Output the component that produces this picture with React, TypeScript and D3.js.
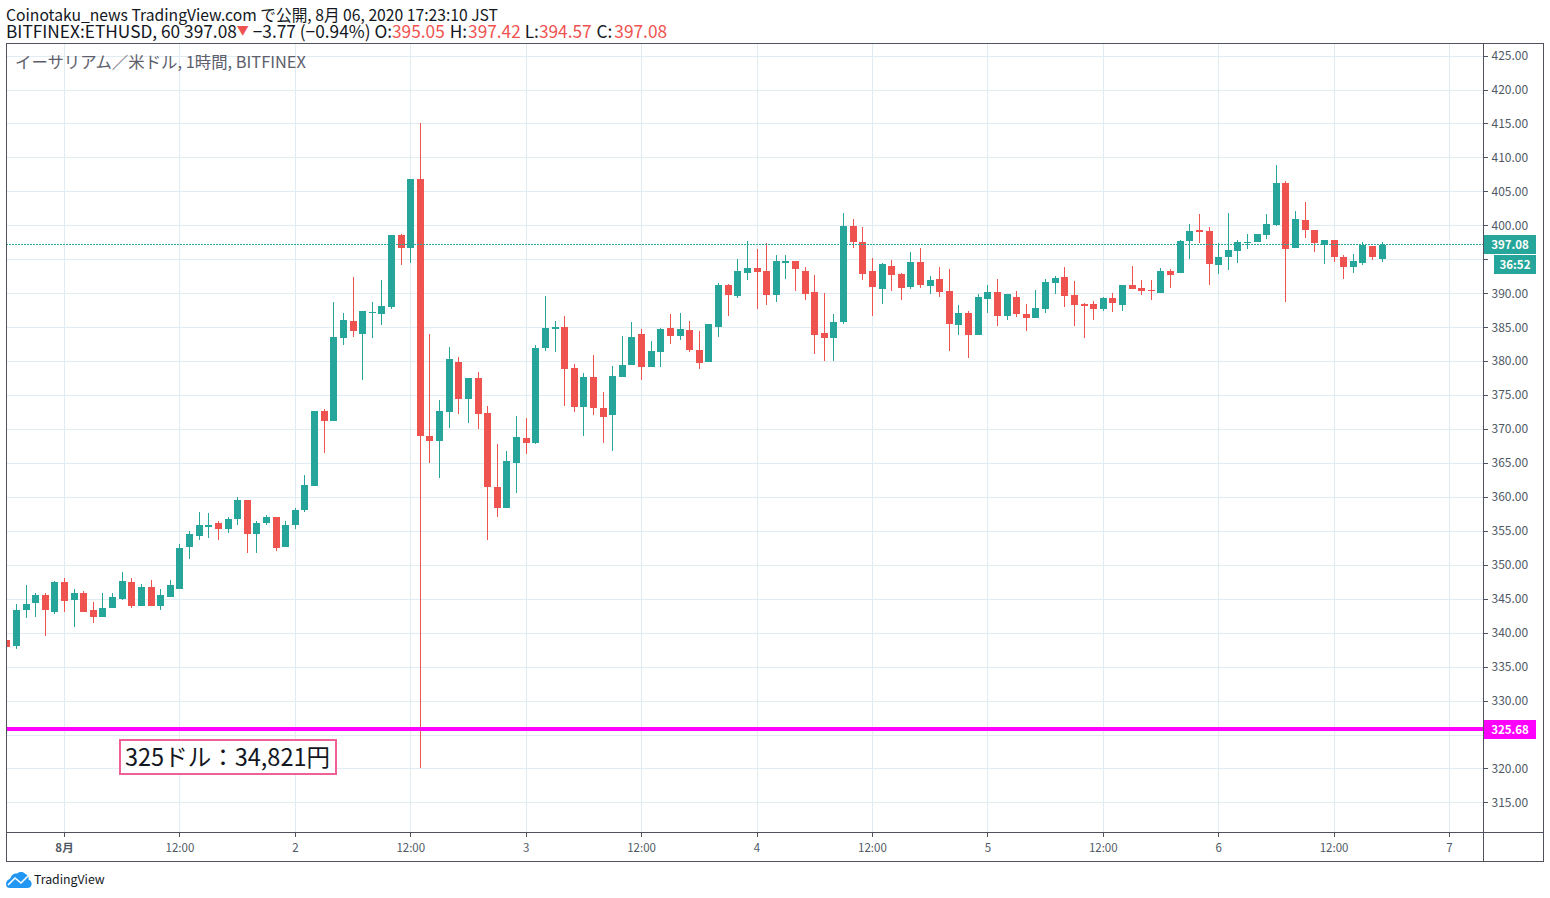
import React, { useRef, useEffect } from "react";
import * as d3 from "d3";

// values, one entry per hourly candle
const opens = [
  338.9, 338.0, 343.3, 344.3, 345.5, 343.1, 347.4, 344.75, 345.8, 343.3, 342.25, 343.6,
  344.9, 347.4, 343.9, 346.8, 344.0, 345.3, 346.5, 352.55, 354.3, 355.6, 356.1, 355.2,
  356.7, 359.5, 354.6, 356.1, 357.0, 352.55, 355.8, 358.0, 361.6, 372.65, 371.2, 383.4,
  385.9, 384.0, 387.1, 387.0, 388.0, 398.6, 396.7, 406.8, 369.0, 368.2, 372.5, 379.9,
  374.4, 377.5, 372.4, 361.45, 358.35, 365.0, 368.7, 367.95, 381.95, 384.75, 385.05, 379.0,
  373.25, 377.65, 373.1, 372.05, 377.65, 379.4, 383.95, 379.2, 381.3, 384.85, 383.65, 384.55,
  381.6, 379.8, 385.0, 391.2, 389.55, 393.0, 393.7, 393.25, 389.7, 394.45, 394.75, 393.25,
  390.15, 384.1, 383.35, 385.7, 399.9, 397.55, 393.25, 390.6, 394.0, 392.8, 390.9, 394.6,
  391.0, 392.05, 390.3, 385.25, 387.05, 383.8, 389.1, 390.15, 386.6, 389.4, 386.9, 386.3,
  387.65, 391.5, 392.35, 389.7, 388.4, 388.4, 387.65, 389.25, 388.3, 391.2, 390.8, 390.5,
  390.05, 393.3, 393.0, 397.7, 399.3, 399.15, 394.15, 395.35, 396.25, 397.4, 397.55, 398.6,
  400.05, 406.2, 396.65, 400.8, 399.3, 397.1, 397.85, 395.35, 393.85, 394.45, 396.95, 395.05,
];
const closes = [
  337.9, 343.4, 344.2, 345.5, 343.3, 347.4, 344.6, 345.9, 343.1, 342.25, 343.7, 345.2,
  347.55, 343.9, 346.8, 343.9, 345.5, 347.0, 352.4, 354.6, 355.8, 355.9, 355.2, 356.8,
  359.5, 354.6, 356.2, 357.0, 352.4, 355.9, 358.0, 361.7, 372.65, 371.2, 383.6, 386.1,
  384.45, 387.4, 387.25, 388.1, 398.6, 396.7, 406.8, 368.9, 368.2, 372.65, 380.3, 374.4,
  377.5, 372.2, 361.45, 358.35, 365.3, 368.8, 367.95, 381.95, 384.9, 385.05, 378.85, 373.25,
  377.65, 373.1, 371.75, 377.8, 379.45, 383.5, 379.2, 381.45, 384.7, 383.65, 384.7, 381.6,
  379.65, 385.4, 391.2, 389.7, 393.25, 393.7, 393.1, 389.7, 394.75, 394.75, 393.55, 389.85,
  383.8, 383.35, 385.7, 399.9, 397.55, 392.8, 390.9, 394.3, 392.65, 390.75, 394.6, 391.2,
  391.9, 390.15, 385.4, 387.05, 383.8, 389.4, 390.15, 386.6, 389.85, 386.9, 386.3, 387.8,
  391.6, 392.2, 389.55, 388.25, 388.1, 387.65, 389.25, 388.5, 391.2, 390.65, 390.35, 390.35,
  393.3, 392.7, 397.7, 399.15, 399.0, 394.3, 395.35, 396.35, 397.55, 397.55, 398.75, 400.2,
  406.2, 396.5, 400.95, 399.3, 397.4, 397.85, 395.35, 393.85, 394.75, 397.1, 395.35, 397.08,
];
const highs = [
  338.9, 344.2, 347.0, 345.8, 345.8, 347.6, 348.0, 346.4, 346.1, 344.5, 345.8, 345.8,
  348.9, 348.0, 347.1, 347.7, 346.4, 347.7, 353.0, 355.0, 357.8, 357.7, 356.5, 357.0,
  360.0, 359.6, 356.4, 357.4, 357.0, 356.5, 358.3, 363.2, 372.65, 372.95, 388.7, 387.1,
  392.4, 387.4, 388.7, 392.0, 398.6, 398.7, 406.8, 415.0, 384.0, 374.3, 382.1, 380.6,
  377.5, 378.4, 373.4, 367.8, 366.8, 371.9, 371.6, 382.4, 389.6, 385.9, 386.65, 379.6,
  378.25, 380.9, 375.45, 379.3, 383.7, 385.7, 384.7, 382.9, 384.85, 386.9, 387.05, 385.85,
  384.4, 385.4, 391.5, 391.35, 395.0, 397.7, 396.5, 397.4, 395.6, 395.6, 394.75, 393.85,
  392.65, 390.0, 386.9, 401.8, 400.95, 399.75, 395.15, 394.45, 394.85, 392.95, 396.05, 396.65,
  392.5, 393.85, 393.55, 388.2, 387.35, 389.85, 391.2, 392.05, 389.85, 390.3, 388.4, 390.45,
  392.05, 392.5, 393.85, 391.75, 388.5, 388.8, 389.4, 390.0, 391.2, 394.0, 391.95, 391.95,
  393.75, 393.6, 397.85, 400.2, 401.65, 399.75, 397.4, 401.8, 397.85, 398.75, 398.75, 401.65,
  408.85, 406.5, 402.1, 403.45, 399.3, 397.85, 397.85, 395.65, 395.8, 397.55, 396.95, 397.55,
];
const lows = [
  337.9, 337.6, 342.1, 342.25, 339.5, 342.7, 343.0, 340.8, 343.1, 341.4, 342.25, 343.6,
  344.75, 343.7, 343.9, 343.9, 343.3, 345.3, 346.4, 350.9, 353.6, 353.9, 353.7, 354.75,
  355.8, 351.8, 351.7, 355.8, 352.1, 352.55, 355.3, 357.8, 361.6, 366.5, 371.2, 382.4,
  383.6, 377.2, 383.4, 385.3, 387.7, 394.2, 394.5, 320.0, 365.0, 362.8, 370.15, 372.2,
  370.9, 370.0, 353.6, 357.0, 358.35, 360.6, 366.3, 367.8, 381.5, 381.35, 373.4, 372.5,
  369.0, 372.05, 367.95, 366.75, 377.65, 379.4, 377.15, 379.2, 379.2, 382.45, 383.05, 381.3,
  378.9, 379.8, 383.5, 386.6, 389.25, 391.9, 387.65, 388.2, 388.65, 392.05, 390.3, 388.95,
  381.0, 379.95, 379.95, 385.4, 396.65, 391.9, 386.6, 388.4, 390.3, 388.95, 390.6, 390.75,
  389.85, 389.4, 381.45, 383.8, 380.4, 383.8, 387.05, 385.1, 386.0, 386.45, 384.4, 386.3,
  387.05, 389.85, 387.95, 385.1, 383.35, 386.0, 387.35, 387.2, 387.4, 390.65, 389.75, 389.0,
  390.05, 390.8, 393.0, 395.05, 397.4, 391.25, 392.85, 393.45, 394.45, 396.5, 397.55, 398.0,
  399.9, 388.75, 396.65, 398.15, 396.1, 394.3, 394.6, 392.1, 393.0, 394.15, 394.9, 394.57,
];

const priceTicks = d3.range(315, 426, 5);
const hiddenPriceLabels = [325, 395]; // sit behind the price tags
const timeTicks = [0, 12, 24, 36, 48, 60, 72, 84, 96, 108, 120, 132, 144]; // hours from 1 Aug
const timeLabels = ["8月", "12:00", "2", "12:00", "3", "12:00", "4", "12:00", "5", "12:00", "6", "12:00", "7"];
const firstCandleHour = -6;
const lastPrice = 397.08;

const GREEN = "#26a69a";
const RED = "#ef5350";
const MAGENTA = "#ff00ff";
const GRID = "#e1ecf2";
const FRAME = "#50535e";
const TEXT = "#4f5966";
const FONT = "'Noto Sans CJK JP', 'Noto Sans', sans-serif";

export default function App() {
  const svgRef = useRef<SVGSVGElement | null>(null);

  useEffect(() => {
    const svg = d3.select(svgRef.current);
    svg.selectAll("*").remove();

    // pane box
    const pane = { left: 6, top: 43, right: 1483, bottom: 832 };
    const outer = { right: 1543, bottom: 861 };

    const x = d3.scaleLinear().domain([0, 144]).range([64, 1449]);
    const y = d3.scaleLinear().domain([315, 425]).range([802.4, 55.6]);
    const px = (h: number) => Math.round(x(h));
    const py = (p: number) => Math.round(y(p));

    svg
      .append("defs")
      .append("clipPath")
      .attr("id", "pane-clip")
      .append("rect")
      .attr("x", pane.left)
      .attr("y", pane.top)
      .attr("width", pane.right - pane.left)
      .attr("height", pane.bottom - pane.top);

    // grid
    const grid = svg.append("g").attr("shape-rendering", "crispEdges").attr("stroke", GRID);
    grid
      .selectAll("line.h")
      .data(priceTicks)
      .join("line")
      .attr("class", "h")
      .attr("x1", pane.left)
      .attr("x2", pane.right)
      .attr("y1", (d) => py(d) + 0.5)
      .attr("y2", (d) => py(d) + 0.5);
    grid
      .selectAll("line.v")
      .data(timeTicks)
      .join("line")
      .attr("class", "v")
      .attr("x1", (d) => px(d) + 0.5)
      .attr("x2", (d) => px(d) + 0.5)
      .attr("y1", pane.top)
      .attr("y2", pane.bottom);

    // candles
    const candles = svg
      .append("g")
      .attr("clip-path", "url(#pane-clip)")
      .attr("shape-rendering", "crispEdges");
    const colour = (i: number) => (closes[i] >= opens[i] ? GREEN : RED);
    const index = opens.map((_, i) => i);
    candles
      .selectAll("rect.wick")
      .data(index)
      .join("rect")
      .attr("class", "wick")
      .attr("x", (i) => px(i + firstCandleHour))
      .attr("width", 1)
      .attr("y", (i) => py(highs[i]))
      .attr("height", (i) => py(lows[i]) - py(highs[i]))
      .attr("fill", colour);
    candles
      .selectAll("rect.body")
      .data(index)
      .join("rect")
      .attr("class", "body")
      .attr("x", (i) => px(i + firstCandleHour) - 3)
      .attr("width", 7)
      .attr("y", (i) => py(Math.max(opens[i], closes[i])))
      .attr("height", (i) => Math.max(1, Math.abs(py(opens[i]) - py(closes[i]))))
      .attr("fill", colour);

    // horizontal level and last price line
    svg
      .append("line")
      .attr("x1", pane.left)
      .attr("x2", pane.right)
      .attr("y1", 729)
      .attr("y2", 729)
      .attr("stroke", MAGENTA)
      .attr("stroke-width", 4)
      .attr("shape-rendering", "crispEdges");
    svg
      .append("line")
      .attr("x1", pane.left)
      .attr("x2", pane.right)
      .attr("y1", py(lastPrice) - 0.5)
      .attr("y2", py(lastPrice) - 0.5)
      .attr("stroke", GREEN)
      .attr("stroke-dasharray", "2,1")
      .attr("shape-rendering", "crispEdges");

    // frame
    const frame = svg
      .append("g")
      .attr("fill", "none")
      .attr("stroke", FRAME)
      .attr("shape-rendering", "crispEdges");
    frame
      .append("rect")
      .attr("x", pane.left + 0.5)
      .attr("y", pane.top + 0.5)
      .attr("width", outer.right - pane.left)
      .attr("height", outer.bottom - pane.top);
    frame
      .append("line")
      .attr("x1", pane.right + 0.5)
      .attr("x2", pane.right + 0.5)
      .attr("y1", pane.top)
      .attr("y2", outer.bottom);
    frame
      .append("line")
      .attr("x1", pane.left)
      .attr("x2", outer.right)
      .attr("y1", pane.bottom + 0.5)
      .attr("y2", pane.bottom + 0.5);

    // price axis
    const yAxis = svg
      .append("g")
      .attr("transform", `translate(${pane.right + 0.5},0)`)
      .call(
        d3
          .axisRight(y)
          .tickValues(priceTicks)
          .tickFormat((d) =>
            hiddenPriceLabels.includes(d as number) ? "" : d3.format(".2f")(d as number)
          )
          .tickSize(4)
          .tickPadding(4)
      );
    yAxis.select(".domain").remove();
    yAxis.selectAll("line").attr("stroke", FRAME).attr("shape-rendering", "crispEdges");
    yAxis
      .selectAll("text")
      .attr("fill", TEXT)
      .style("font-family", FONT)
      .style("font-size", "12px");

    // time axis
    const xAxis = svg
      .append("g")
      .attr("transform", `translate(0,${pane.bottom + 0.5})`)
      .call(
        d3
          .axisBottom(x)
          .tickValues(timeTicks)
          .tickFormat((_, i) => timeLabels[i])
          .tickSize(4)
          .tickPadding(7)
      );
    xAxis.select(".domain").remove();
    xAxis.selectAll("line").attr("stroke", FRAME).attr("shape-rendering", "crispEdges");
    xAxis
      .selectAll("text")
      .attr("fill", TEXT)
      .attr("font-weight", (_, i) => (i === 0 ? 700 : 400))
      .style("font-family", FONT)
      .style("font-size", "11.5px");

    // price tags on the axis
    const tag = (x0: number, y0: number, w: number, h: number, fill: string, label: string) => {
      svg
        .append("rect")
        .attr("x", x0)
        .attr("y", y0)
        .attr("width", w)
        .attr("height", h)
        .attr("fill", fill)
        .attr("shape-rendering", "crispEdges");
      svg
        .append("text")
        .attr("x", x0 + w / 2)
        .attr("y", y0 + h / 2 + 4)
        .attr("text-anchor", "middle")
        .attr("fill", "#fff")
        .attr("font-weight", 700)
        .style("font-family", FONT)
        .style("font-size", "11.5px")
        .text(label);
    };
    tag(pane.right + 1, 235, 52, 19, GREEN, "397.08");
    tag(pane.right + 11, 255, 42, 19, GREEN, "36:52");
    tag(pane.right + 1, 720, 52, 19, MAGENTA, "325.68");

    // header
    const header = svg.append("g").style("font-family", FONT).attr("fill", "#131722");
    header
      .append("text")
      .attr("x", 6)
      .attr("y", 20.5)
      .attr("textLength", 492)
      .attr("lengthAdjust", "spacingAndGlyphs")
      .style("font-size", "16px")
      .text("Coinotaku_news TradingView.com で公開, 8月 06, 2020 17:23:10 JST");
    const line2 = header
      .append("text")
      .attr("x", 6)
      .attr("y", 38)
      .style("font-size", "17.3px");
    line2.append("tspan").text("BITFINEX:ETHUSD, 60 397.08");
    line2.append("tspan").attr("fill", RED).attr("font-size", "12px").attr("dy", -3).text("▼");
    line2.append("tspan").attr("dy", 3).text(" −3.77 (−0.94%) O:");
    line2.append("tspan").attr("fill", RED).text("395.05");
    line2.append("tspan").attr("dx", 1).text(" H:");
    line2.append("tspan").attr("fill", RED).attr("dx", 1).text("397.42");
    line2.append("tspan").text(" L:");
    line2.append("tspan").attr("fill", RED).text("394.57");
    line2.append("tspan").attr("dx", 1).text(" C:");
    line2.append("tspan").attr("fill", RED).attr("dx", 2).text("397.08");

    // pane title
    svg
      .append("text")
      .attr("x", 15)
      .attr("y", 68)
      .attr("fill", "#5d606b")
      .style("font-family", FONT)
      .style("font-size", "16.4px")
      .text("イーサリアム／米ドル, 1時間, BITFINEX");

    // annotation
    svg
      .append("rect")
      .attr("x", 120)
      .attr("y", 740)
      .attr("width", 216)
      .attr("height", 34)
      .attr("fill", "#fff")
      .attr("stroke", "#ee6096")
      .attr("stroke-width", 2)
      .attr("shape-rendering", "crispEdges");
    svg
      .append("text")
      .attr("x", 125)
      .attr("y", 766)
      .attr("fill", "#131722")
      .attr("textLength", 205)
      .attr("lengthAdjust", "spacingAndGlyphs")
      .style("font-family", FONT)
      .style("font-size", "24px")
      .text("325ドル：34,821円");

    // logo
    const logo = svg.append("g").attr("transform", "translate(6,871)");
    logo
      .append("path")
      .attr(
        "d",
        "M0,13 C0,10 2,8.5 4,8 C5,4 8,2 11,2.5 C13,0.5 17,0 19.5,3 C22,4 23,6 22.5,8.5 C25,9.5 26,11.5 25.5,14 C25,16 23.5,17 21.5,17 L4,17 C1.5,17 0,15.5 0,13 Z"
      )
      .attr("fill", "#2196f3");
    logo
      .append("path")
      .attr("d", "M2,14 L9,7 L15,12 L22,5")
      .attr("fill", "none")
      .attr("stroke", "#fff")
      .attr("stroke-width", 1.6);
    svg
      .append("text")
      .attr("x", 34)
      .attr("y", 884)
      .attr("fill", "#131722")
      .style("font-family", FONT)
      .style("font-size", "12.3px")
      .text("TradingView");
  }, []);

  return (
    <svg
      ref={svgRef}
      width={1550}
      height={898}
      style={{ position: "absolute", left: 0, top: 0, background: "#fff" }}
    />
  );
}
